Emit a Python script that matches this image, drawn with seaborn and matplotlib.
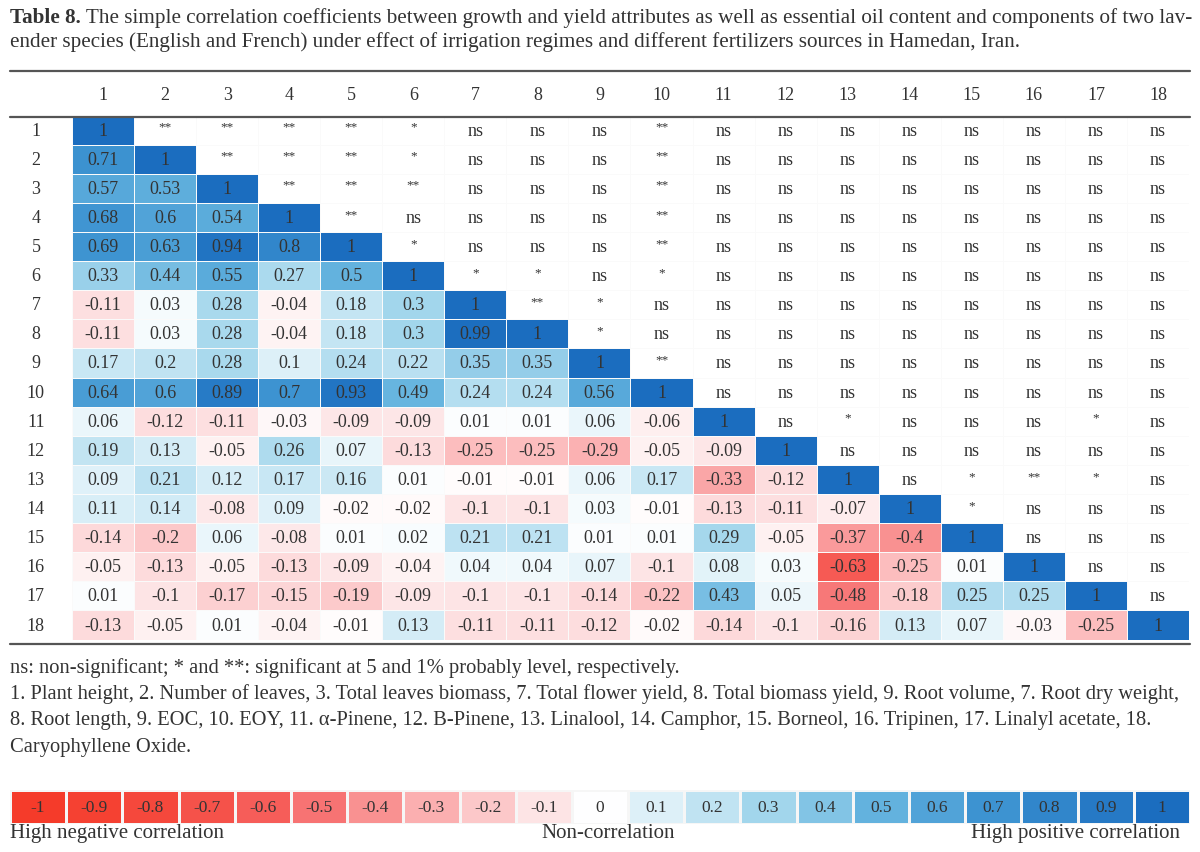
import numpy as np
import pandas as pd
import seaborn as sns
import matplotlib.pyplot as plt
from matplotlib.colors import LinearSegmentedColormap, ListedColormap
from matplotlib.lines import Line2D

variables = [str(i) for i in range(1, 19)]

# lower triangle incl. diagonal, row by row
r_lower = [
    [1],
    [0.71, 1],
    [0.57, 0.53, 1],
    [0.68, 0.6, 0.54, 1],
    [0.69, 0.63, 0.94, 0.8, 1],
    [0.33, 0.44, 0.55, 0.27, 0.5, 1],
    [-0.11, 0.03, 0.28, -0.04, 0.18, 0.3, 1],
    [-0.11, 0.03, 0.28, -0.04, 0.18, 0.3, 0.99, 1],
    [0.17, 0.2, 0.28, 0.1, 0.24, 0.22, 0.35, 0.35, 1],
    [0.64, 0.6, 0.89, 0.7, 0.93, 0.49, 0.24, 0.24, 0.56, 1],
    [0.06, -0.12, -0.11, -0.03, -0.09, -0.09, 0.01, 0.01, 0.06, -0.06, 1],
    [0.19, 0.13, -0.05, 0.26, 0.07, -0.13, -0.25, -0.25, -0.29, -0.05, -0.09, 1],
    [0.09, 0.21, 0.12, 0.17, 0.16, 0.01, -0.01, -0.01, 0.06, 0.17, -0.33, -0.12, 1],
    [0.11, 0.14, -0.08, 0.09, -0.02, -0.02, -0.1, -0.1, 0.03, -0.01, -0.13, -0.11, -0.07, 1],
    [-0.14, -0.2, 0.06, -0.08, 0.01, 0.02, 0.21, 0.21, 0.01, 0.01, 0.29, -0.05, -0.37, -0.4, 1],
    [-0.05, -0.13, -0.05, -0.13, -0.09, -0.04, 0.04, 0.04, 0.07, -0.1, 0.08, 0.03, -0.63, -0.25, 0.01, 1],
    [0.01, -0.1, -0.17, -0.15, -0.19, -0.09, -0.1, -0.1, -0.14, -0.22, 0.43, 0.05, -0.48, -0.18, 0.25, 0.25, 1],
    [-0.13, -0.05, 0.01, -0.04, -0.01, 0.13, -0.11, -0.11, -0.12, -0.02, -0.14, -0.1, -0.16, 0.13, 0.07, -0.03, -0.25, 1],
]

# significance marks above the diagonal, row by row
sig_upper = [
    ["**", "**", "**", "**", "*", "ns", "ns", "ns", "**"] + ["ns"] * 8,
    ["**", "**", "**", "*", "ns", "ns", "ns", "**"] + ["ns"] * 8,
    ["**", "**", "**", "ns", "ns", "ns", "**"] + ["ns"] * 8,
    ["**", "ns", "ns", "ns", "ns", "**"] + ["ns"] * 8,
    ["*", "ns", "ns", "ns", "**"] + ["ns"] * 8,
    ["*", "*", "ns", "*"] + ["ns"] * 8,
    ["**", "*", "ns"] + ["ns"] * 8,
    ["*", "ns"] + ["ns"] * 8,
    ["**"] + ["ns"] * 8,
    ["ns"] * 8,
    ["ns", "*", "ns", "ns", "ns", "*", "ns"],
    ["ns"] * 6,
    ["ns", "*", "**", "*", "ns"],
    ["*", "ns", "ns", "ns"],
    ["ns", "ns", "ns"],
    ["ns", "ns"],
    ["ns"],
]

legend_vals = [-1, -0.9, -0.8, -0.7, -0.6, -0.5, -0.4, -0.3, -0.2, -0.1, 0,
               0.1, 0.2, 0.3, 0.4, 0.5, 0.6, 0.7, 0.8, 0.9, 1]

title_bold = "Table 8."
title_rest = (" The simple correlation coefficients between growth and yield attributes as well as "
              "essential oil content and components of two lav-")
title_line2 = ("ender species (English and French) under effect of irrigation regimes and different "
               "fertilizers sources in Hamedan, Iran.")
notes = [
    "ns: non-significant; * and **: significant at 5 and 1% probably level, respectively.",
    "1. Plant height, 2. Number of leaves, 3. Total leaves biomass, 7. Total flower yield, "
    "8. Total biomass yield, 9. Root volume, 7. Root dry weight,",
    "8. Root length, 9. EOC, 10. EOY, 11. \u03b1-Pinene, 12. B-Pinene, 13. Linalool, 14. Camphor, "
    "15. Borneol, 16. Tripinen, 17. Linalyl acetate, 18.",
    "Caryophyllene Oxide.",
]

n = len(variables)
corr = np.full((n, n), np.nan)
for i, row in enumerate(r_lower):
    corr[i, :len(row)] = row
sig = np.full((n, n), "", dtype=object)
for i, row in enumerate(sig_upper):
    sig[i, i + 1:] = row

annot_lower = np.full((n, n), "", dtype=object)
for i in range(n):
    for j in range(i + 1):
        annot_lower[i, j] = f"{corr[i, j]:g}"

upper = np.triu(np.ones((n, n), dtype=bool), k=1)
df = pd.DataFrame(corr, index=variables, columns=variables)

cmap = LinearSegmentedColormap.from_list("corr", [
    (0.00, "#f53b2a"), (0.10, "#f5483c"), (0.20, "#f65d59"), (0.25, "#f77272"),
    (0.30, "#f99292"), (0.35, "#fbb0b1"), (0.40, "#fcc8c9"), (0.45, "#fde3e4"),
    (0.50, "#ffffff"), (0.55, "#dcf0f8"), (0.65, "#a3d6ec"), (0.75, "#64b3de"),
    (0.85, "#3d93d1"), (1.00, "#1b6dbf")])

sns.set_theme(style="white")
serif = ["Liberation Serif", "DejaVu Serif"]
plt.rcParams["font.family"] = serif
txt = "#333333"

fig = plt.figure(figsize=(12, 8.53), dpi=100)
W, H = 1200, 853

ax = fig.add_axes([72 / W, 1 - 640.6 / H, (1189 - 72) / W, (640.6 - 116.5) / H])
sns.heatmap(df, mask=upper, cmap=cmap, vmin=-1, vmax=1, annot=annot_lower, fmt="",
            cbar=False, linewidths=0.6, linecolor="#eef3f7", ax=ax,
            annot_kws=dict(fontsize=13, color=txt))
sns.heatmap(np.zeros((n, n)), mask=~upper, cmap=ListedColormap(["white"]), annot=sig,
            fmt="", cbar=False, linewidths=0.6, linecolor="#fafafa", ax=ax,
            annot_kws=dict(fontsize=13, color=txt))
for t in ax.texts:
    if "*" in t.get_text():
        t.set_fontsize(9.5)
        t.set_y(t.get_position()[1] - 0.12)

ax.set_xticks(np.arange(n) + 0.5)
ax.set_xticklabels(variables, rotation=0, fontsize=13, color=txt)
ax.set_yticks(np.arange(n) + 0.5)
ax.set_yticklabels(variables, rotation=0, fontsize=13, color=txt, ha="center")
ax.xaxis.tick_top()
ax.tick_params(axis="x", length=0, pad=9)
ax.tick_params(axis="y", length=0, pad=26)
ax.set_xlabel("")
ax.set_ylabel("")

for y in (72, 118, 645):
    fig.add_artist(Line2D([10 / W, 1190 / W], [1 - y / H] * 2, color="#555555", lw=1.6))

# title: bold lead-in followed by regular text
renderer = fig.canvas.get_renderer()
tb = fig.text(10 / W, 1 - 18 / H, title_bold, fontsize=15.2, fontweight="bold", color=txt, va="center")
bb = tb.get_window_extent(renderer=renderer)
fig.text(bb.x1 / W, 1 - 18 / H, title_rest, fontsize=15.2, color=txt, va="center")
fig.text(10 / W, 1 - 42 / H, title_line2, fontsize=15.2, color=txt, va="center")

for k, line in enumerate(notes):
    fig.text(10 / W, 1 - (668 + 26.5 * k) / H, line, fontsize=14.8, color=txt, va="center")

# legend strip
lax = fig.add_axes([10 / W, 1 - 825 / H, 1180 / W, 34 / H])
leg_labels = [[f"{v:g}" for v in legend_vals]]
sns.heatmap([legend_vals], cmap=cmap, vmin=-1, vmax=1, annot=leg_labels, fmt="", cbar=False,
            xticklabels=False, yticklabels=False, linewidths=0.8, linecolor="#f6f6f6", ax=lax,
            annot_kws=dict(fontsize=12.5, color=txt))
fig.text(10 / W, 1 - 834 / H, "High negative correlation", fontsize=15, color=txt, va="center")
fig.text(608 / W, 1 - 834 / H, "Non-correlation", fontsize=15, color=txt, va="center", ha="center")
fig.text(1180 / W, 1 - 834 / H, "High positive correlation", fontsize=15, color=txt,
         va="center", ha="right")

fig.savefig("out.png", dpi=100, facecolor="white")
